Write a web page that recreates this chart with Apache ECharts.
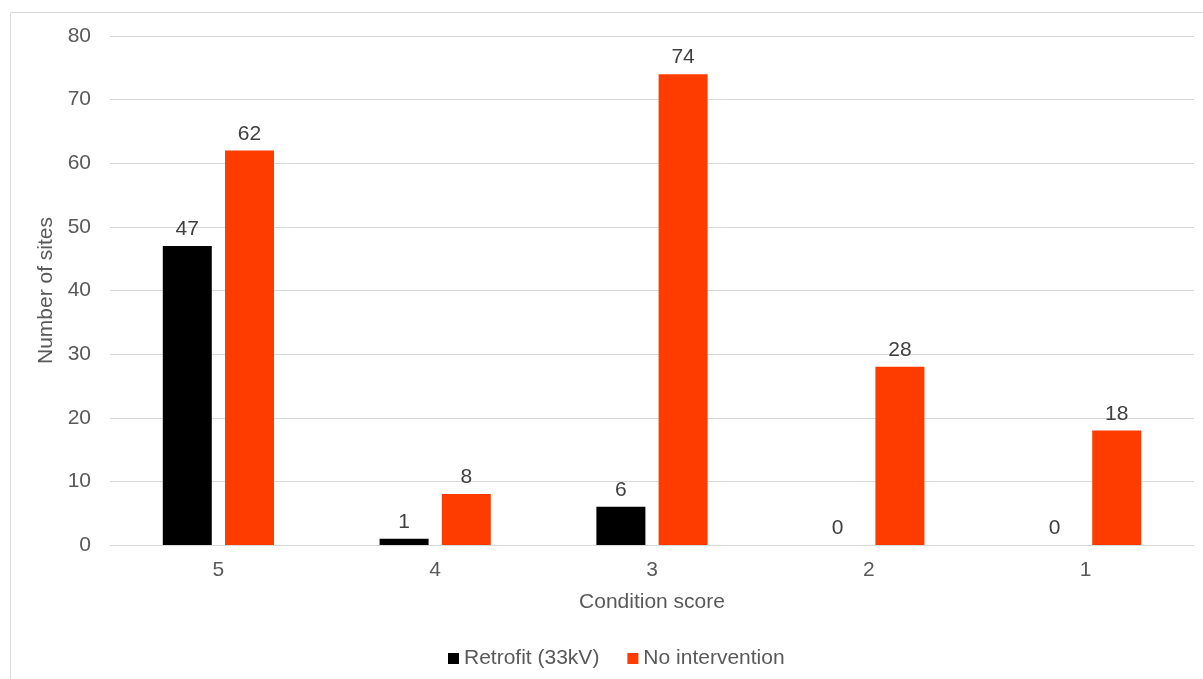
<!DOCTYPE html>
<html><head><meta charset="utf-8">
<script src="https://cdn.jsdelivr.net/npm/echarts@6/dist/echarts.min.js"></script>
<style>html,body{margin:0;padding:0;background:#fff}#c{width:1203px;height:679px}</style>
</head><body><div id="c"></div>
<script>
const categories = ['5','4','3','2','1'];
const retrofit = [47,1,6,0,0];
const noIntervention = [62,8,74,28,18];
const seriesNames = ['Retrofit (33kV)','No intervention'];
const font = 'Liberation Sans, Arial, sans-serif';
const FS = 21;
const chart = echarts.init(document.getElementById('c'));
chart.setOption({
  animation:false,
  backgroundColor:'#fff',
  graphic:[{type:'rect',shape:{x:10.5,y:12.5,width:1300,height:800},style:{fill:'none',stroke:'#d9d9d9',lineWidth:1},silent:true}],
  grid:{left:110,right:9,top:36,bottom:134},
  legend:{bottom:5,left:443,itemWidth:11,itemHeight:11,itemGap:28,icon:'rect',
    textStyle:{fontFamily:font,fontSize:FS,color:'#595959'},data:seriesNames},
  xAxis:{type:'category',data:categories,name:'Condition score',nameLocation:'middle',nameGap:47,
    nameTextStyle:{fontFamily:font,fontSize:FS,color:'#595959'},
    axisLine:{lineStyle:{color:'#d9d9d9'}},axisTick:{show:false},
    axisLabel:{fontFamily:font,fontSize:FS,color:'#595959',margin:15}},
  yAxis:{type:'value',min:0,max:80,interval:10,name:'Number of sites',nameLocation:'middle',nameGap:52,
    nameTextStyle:{fontFamily:font,fontSize:FS,color:'#595959'},
    axisLabel:{fontFamily:font,fontSize:FS,color:'#595959',margin:19},
    splitLine:{lineStyle:{color:'#d9d9d9'}}},
  series:[
    {name:seriesNames[0],type:'bar',data:retrofit,barWidth:'22.6%',barGap:'27%',
     itemStyle:{color:'#000000'},
     label:{show:true,position:'top',distance:6,fontFamily:font,fontSize:FS,color:'#404040'}},
    {name:seriesNames[1],type:'bar',data:noIntervention,barWidth:'22.6%',
     itemStyle:{color:'#FF3C00'},
     label:{show:true,position:'top',distance:6,fontFamily:font,fontSize:FS,color:'#404040'}}
  ]
});
</script></body></html>
